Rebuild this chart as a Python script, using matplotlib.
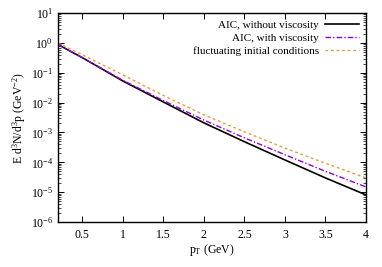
"""Invariant pT spectra: AIC vs fluctuating initial conditions."""
import matplotlib
matplotlib.use("Agg")
import matplotlib.pyplot as plt
from matplotlib.ticker import LogLocator, NullFormatter

plt.rcParams['font.family'] = ['Liberation Serif', 'DejaVu Serif']
plt.rcParams['mathtext.fontset'] = 'custom'
plt.rcParams['mathtext.rm'] = 'Liberation Serif'
plt.rcParams['mathtext.it'] = 'Liberation Serif:italic'

# values
pt = [0.2, 0.5, 1.0, 1.5, 2.0, 2.5, 3.0, 3.5, 4.0]
aic_novisc = [0.88, 0.32, 0.053, 0.0105, 2.1e-3, 4.9e-4, 1.2e-4, 3.0e-5, 8.1e-6]
aic_visc = [0.88, 0.32, 0.056, 0.0117, 2.6e-3, 6.6e-4, 1.8e-4, 5.0e-5, 1.5e-5]
fluct = [1.0, 0.40, 0.085, 0.0174, 3.9e-3, 1.05e-3, 3.0e-4, 9.3e-5, 3.0e-5]

fig = plt.figure(figsize=(3.82, 2.67), dpi=100)
ax = fig.add_axes([0.152, 0.1685, 0.806, 0.7825])

ax.plot(pt, aic_novisc, '-', color='black', linewidth=1.2,
        label='AIC, without viscosity')
ax.plot(pt, aic_visc, color='#9400d3', linewidth=1.0,
        linestyle=(0, (4, 1.5, 1, 1.5)), label='AIC, with viscosity')
ax.plot(pt, fluct, color='#e69b40', linewidth=1.0,
        linestyle=(0, (2, 2)), label='fluctuating initial conditions')

ax.set_yscale('log')
ax.set_xlim(0.2, 4)
ax.set_ylim(1e-6, 10)
ax.set_xticks([0.5, 1, 1.5, 2, 2.5, 3, 3.5, 4])
ax.set_xticklabels(['0.5', '1', '1.5', '2', '2.5', '3', '3.5', '4'])
ax.yaxis.set_major_locator(LogLocator(base=10, numticks=10))
ax.yaxis.set_minor_locator(LogLocator(base=10, subs=range(2, 10), numticks=20))
ax.yaxis.set_minor_formatter(NullFormatter())

ax.tick_params(which='both', direction='in', top=True, right=True,
               labelsize=8.5)
ax.tick_params(which='major', length=4, width=0.7)
ax.tick_params(which='minor', length=2, width=0.5)
ax.tick_params(axis='x', pad=5)
for s in ax.spines.values():
    s.set_linewidth(1.0)

ax.set_xlabel('p$_\\mathrm{T}$ (GeV)', fontsize=8.5, labelpad=1)
ax.set_ylabel('E d$^3$N/d$^3$p (GeV$^{-2}$)', fontsize=8.5, labelpad=2)

ax.legend(loc='upper right', frameon=False, fontsize=8, markerfirst=False,
          handlelength=3.0, handletextpad=0.6, labelspacing=0.3,
          borderaxespad=0.25, alignment='right')

plt.savefig("out.png", dpi=100)
print("Saved out.png")
